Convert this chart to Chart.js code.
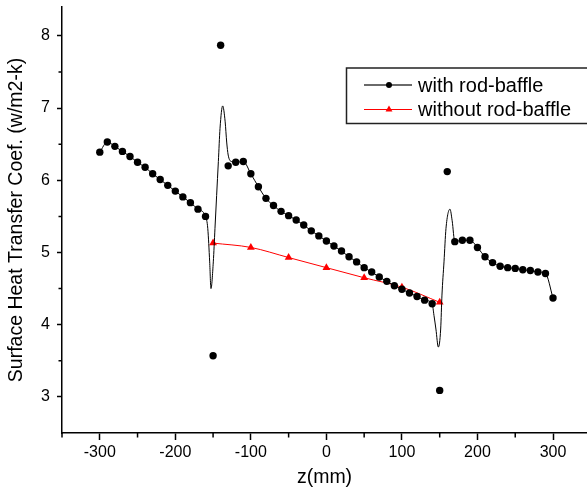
<!DOCTYPE html>
<html>
<head>
<meta charset="utf-8">
<script src="https://cdn.jsdelivr.net/npm/chart.js"></script>
<style>
  html, body { margin: 0; padding: 0; background: #fff; overflow: hidden; }
  canvas { display: block; }
</style>
</head>
<body>
<canvas id="chart" width="587" height="490"></canvas>
<script>
// markers, with rod-baffle
const zPositions = [-300,-290,-280,-270,-260,-250,-240,-230,-220,-210,-200,-190,-180,-170,-160,-150,-140,-130,-120,-110,
  -100,-90,-80,-70,-60,-50,-40,-30,-20,-10,0,10,20,30,40,50,60,70,80,90,
  100,110,120,130,140,150,160,170,180,190,200,210,220,230,240,250,260,270,280,290,300];
const withBaffle = [6.39,6.53,6.47,6.40,6.33,6.25,6.18,6.09,6.01,5.93,5.85,5.77,5.69,5.60,5.50,3.57,7.87,6.20,6.25,6.26,
  6.09,5.91,5.75,5.65,5.57,5.51,5.45,5.38,5.30,5.23,5.16,5.09,5.02,4.94,4.87,4.79,4.73,4.66,4.60,4.54,
  4.49,4.44,4.39,4.34,4.29,3.09,6.12,5.15,5.17,5.17,5.07,4.94,4.86,4.81,4.79,4.78,4.76,4.75,4.73,4.71,4.37];

// the smoothed curve as drawn (it misses the outliers and overshoots)
const curveZ = [-300,-290,-280,-270,-260,-250,-240,-230,-220,-210,-200,-190,-180,-170,-160,
  -157,-154.5,-152.8,-149.7,-147.5,-145.3,-143,-140.8,-137.3,-134,-132,-130,-126,
  -120,-110,-100,-90,-80,-70,-60,-50,-40,-30,-20,-10,0,10,20,30,40,50,60,70,80,90,100,110,120,130,140,
  142.4,145,148.2,151.3,153,155.7,158.3,163.6,166.5,
  170,180,190,200,210,220,230,240,250,260,270,280,290,300];
const curveWith = [6.39,6.53,6.47,6.40,6.33,6.25,6.18,6.09,6.01,5.93,5.85,5.77,5.69,5.60,5.50,
  5.33,4.87,4.50,4.87,5.33,5.79,6.26,6.72,7.03,6.81,6.53,6.35,6.26,
  6.25,6.26,6.09,5.91,5.75,5.65,5.57,5.51,5.45,5.38,5.30,5.23,5.16,5.09,5.02,4.94,4.87,4.79,4.73,4.66,4.60,4.54,4.49,4.44,4.39,4.34,4.29,
  4.13,3.94,3.69,3.94,4.41,4.87,5.33,5.60,5.44,
  5.15,5.17,5.17,5.07,4.94,4.86,4.81,4.79,4.78,4.76,4.75,4.73,4.71,4.37];

// without rod-baffle
const withoutZ = [-150,-100,-50,0,50,100,150];
const withoutBaffle = [5.13,5.07,4.93,4.79,4.65,4.52,4.31];

const seriesNames = ['with rod-baffle', 'without rod-baffle'];
const xTicks = [-300,-200,-100,0,100,200,300];
const xMinorTicks = [-350,-250,-150,-50,50,150,250];
const yTicks = [3,4,5,6,7,8];
const yMinorTicks = [3.5,4.5,5.5,6.5,7.5];

const family = "'Liberation Sans', Arial, sans-serif";
Chart.defaults.font.family = family;
Chart.defaults.color = '#000';

function toPoints(xs, ys) {
  return xs.map((x, i) => ({x: x, y: ys[i]}));
}

// origin style minor ticks
const minorTicks = {
  id: 'minorTicks',
  afterDraw(chart) {
    const ctx = chart.ctx;
    const x = chart.scales.x, y = chart.scales.y;
    ctx.save();
    ctx.strokeStyle = '#000';
    ctx.lineWidth = 1.5;
    ctx.beginPath();
    xMinorTicks.forEach(v => {
      const px = x.getPixelForValue(v);
      ctx.moveTo(px, y.bottom);
      ctx.lineTo(px, y.bottom + 4.5);
    });
    yMinorTicks.forEach(v => {
      const py = y.getPixelForValue(v);
      ctx.moveTo(x.left, py);
      ctx.lineTo(x.left - 3.5, py);
    });
    ctx.stroke();
    ctx.restore();
  }
};

const boxLegend = {
  id: 'boxLegend',
  afterDraw(chart) {
    const ctx = chart.ctx;
    ctx.save();
    ctx.strokeStyle = '#222';
    ctx.lineWidth = 1.5;
    ctx.strokeRect(346.5, 68, 260, 55.5);
    const rows = [
      {label: seriesNames[0], color: '#000', line: '#6a6a6a', width: 2, style: 'circle', r: 3, y: 85},
      {label: seriesNames[1], color: '#f00', line: '#f00', width: 1, style: 'triangle', r: 4, y: 109.5}
    ];
    ctx.font = '20px ' + family;
    ctx.textBaseline = 'middle';
    rows.forEach(row => {
      ctx.strokeStyle = row.line;
      ctx.lineWidth = row.width;
      ctx.beginPath();
      ctx.moveTo(364, row.y);
      ctx.lineTo(412, row.y);
      ctx.stroke();
      ctx.fillStyle = row.color;
      ctx.strokeStyle = row.color;
      Chart.helpers.drawPoint(ctx, {pointStyle: row.style, radius: row.r, rotation: 0, borderWidth: 0}, 389, row.y);
      ctx.fillStyle = '#000';
      ctx.fillText(row.label, 418, row.y + 1);
    });
    ctx.restore();
  }
};

const ctx = document.getElementById('chart').getContext('2d');
new Chart(ctx, {
  type: 'scatter',
  data: {
    datasets: [
      {
        label: 'curve',
        data: toPoints(curveZ, curveWith),
        showLine: true,
        borderColor: '#000',
        borderWidth: 1,
        pointRadius: 0,
        cubicInterpolationMode: 'monotone'
      },
      {
        label: seriesNames[0],
        data: toPoints(zPositions, withBaffle),
        showLine: false,
        pointStyle: 'circle',
        pointRadius: 3.7,
        backgroundColor: '#000',
        borderColor: '#000',
        borderWidth: 0
      },
      {
        label: seriesNames[1],
        data: toPoints(withoutZ, withoutBaffle),
        showLine: true,
        cubicInterpolationMode: 'monotone',
        borderColor: '#f00',
        borderWidth: 1,
        pointStyle: 'triangle',
        pointRadius: 4.5,
        pointBackgroundColor: '#f00',
        pointBorderColor: '#f00',
        pointBorderWidth: 0
      }
    ]
  },
  options: {
    responsive: false,
    animation: false,
    layout: { autoPadding: false, padding: { top: 7, left: 0, right: 0, bottom: 0 } },
    plugins: {
      legend: { display: false },
      tooltip: { enabled: false }
    },
    scales: {
      x: {
        type: 'linear',
        bounds: 'data',
        min: -350,
        max: 345,
        afterBuildTicks: s => { s.ticks = xTicks.map(v => ({value: v})); },
        afterFit: s => { s.height = 57; s.paddingLeft = 0; s.paddingRight = 0; },
        border: { color: '#000', width: 1.5 },
        grid: { drawOnChartArea: false, drawTicks: true, tickLength: 7, tickColor: '#000', tickWidth: 1.5 },
        ticks: { color: '#000', font: { size: 16 }, padding: 3, maxRotation: 0, autoSkip: false },
        title: { display: true, text: 'z(mm)', color: '#000', font: { size: 19.5 }, padding: { top: 0, bottom: 1 } }
      },
      y: {
        bounds: 'data',
        min: 2.5,
        max: 8.4,
        afterBuildTicks: s => { s.ticks = yTicks.map(v => ({value: v})); },
        afterFit: s => { s.width = 62; s.paddingTop = 0; s.paddingBottom = 0; },
        border: { color: '#000', width: 1.5 },
        grid: { drawOnChartArea: false, drawTicks: true, tickLength: 5, tickColor: '#000', tickWidth: 1.5 },
        ticks: { color: '#000', font: { size: 16 }, padding: 7, autoSkip: false },
        title: { display: true, text: 'Surface Heat Transfer Coef. (w/m2-k)', color: '#000', font: { size: 19.5 }, padding: { top: 5, bottom: 0 } }
      }
    }
  },
  plugins: [minorTicks, boxLegend]
});
</script>
</body>
</html>
